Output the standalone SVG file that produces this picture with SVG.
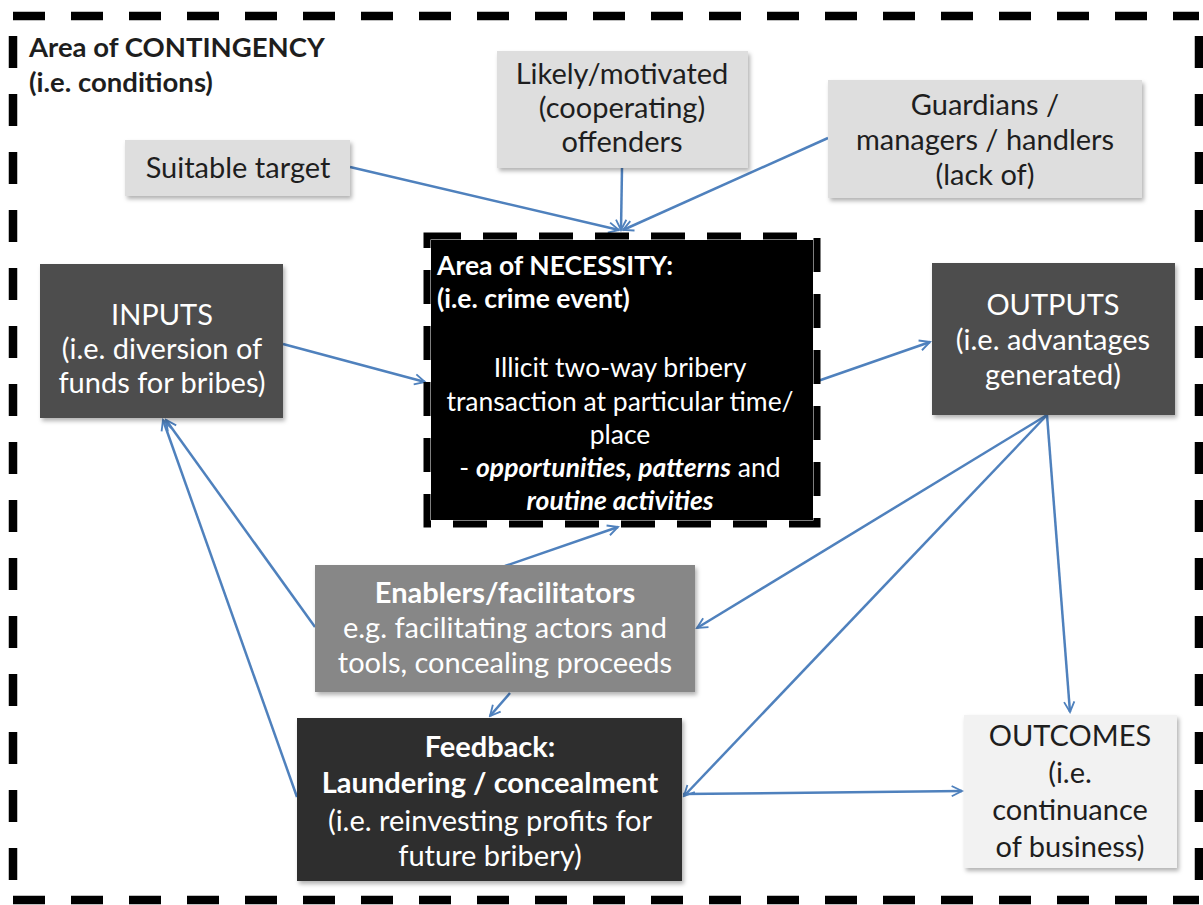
<svg xmlns="http://www.w3.org/2000/svg" width="1203" height="905" viewBox="0 0 1203 905">
<style>
text{font-family:Lato,"Open Sans","Liberation Sans",sans-serif;font-size:29px;}
.c{text-anchor:middle;}
.w{fill:#ffffff;}
.d{fill:#1e1e1e;}
.b{font-weight:bold;}
.bi{font-weight:bold;font-style:italic;}
.n{font-size:26.5px;}
.t{font-size:27.5px;}
.light{fill:#dedede;}
.conn{fill:none;stroke:#4f81bd;stroke-width:2.5;marker-end:url(#arr);}
.border{fill:none;stroke:#000;stroke-width:8.5;stroke-dasharray:32 26;}
</style>
<defs>
<marker id="arr" viewBox="0 0 12 12" refX="10.5" refY="6" markerWidth="5.5" markerHeight="5.5" orient="auto" markerUnits="strokeWidth">
<path d="M1.5,1.5 L10.5,6 L1.5,10.5" fill="none" stroke="#4f81bd" stroke-width="1.6" stroke-linejoin="miter"/>
</marker>
<filter id="sh" x="-10%" y="-10%" width="125%" height="130%">
<feDropShadow dx="2" dy="3" stdDeviation="2" flood-color="#000" flood-opacity="0.3"/>
</filter>
</defs>
<rect width="1203" height="905" fill="#fff"/>
<g id="outer-border">
<path class="border" d="M13,16 H1199"/>
<path class="border" d="M1199,16 V901" stroke-dashoffset="-20"/>
<path class="border" d="M13,900 H1199"/>
<path class="border" d="M13,36 V901"/>
<text x="29" y="57" class="b d t">Area of CONTINGENCY</text>
<text x="29" y="92" class="b d t">(i.e. conditions)</text>
</g>
<g id="connectors">
<path class="conn" d="M350,167 L619,230"/>
<path class="conn" d="M622,168 L621,230"/>
<path class="conn" d="M828,138 L623,230"/>
<path class="conn" d="M283,344 L425,382"/>
<path class="conn" d="M815,382 L930,342"/>
<path class="conn" d="M505,566 L618,527"/>
<path class="conn" d="M510,693 L490,716"/>
<path class="conn" d="M1047,415 L1070,712"/>
<path class="conn" d="M1047,415 L697,628"/>
<path class="conn" d="M1047,415 L684,796"/>
<path class="conn" d="M315,627 L166,420"/>
<path class="conn" d="M297,797 L163,420"/>
<path class="conn" d="M683,794 L962,791"/>
</g>
<g id="suitable-target">
<rect x="125" y="140" width="225" height="56" class="light" filter="url(#sh)"/>
<text x="238" y="178" class="c d">Suitable target</text>
</g>
<g id="likely-offenders">
<rect x="497" y="51" width="251" height="117" class="light" filter="url(#sh)"/>
<text x="622" y="84" class="c d">Likely/motivated</text>
<text x="622" y="118" class="c d">(cooperating)</text>
<text x="622" y="152" class="c d">offenders</text>
</g>
<g id="guardians">
<rect x="828" y="80" width="314" height="118" class="light" filter="url(#sh)"/>
<text x="985" y="115" class="c d">Guardians /</text>
<text x="985" y="150" class="c d">managers / handlers</text>
<text x="985" y="185" class="c d">(lack of)</text>
</g>
<g id="necessity">
<rect x="431" y="240" width="382" height="280" fill="#000"/>
<rect x="427" y="236" width="390" height="288" fill="none" stroke="#000" stroke-width="7" stroke-dasharray="34 22"/>
<text x="437" y="275" class="b w n">Area of NECESSITY:</text>
<text x="437" y="308" class="b w n">(i.e. crime event)</text>
<text x="620" y="377" class="c w n">Illicit two-way bribery</text>
<text x="620" y="411" class="c w n">transaction at particular time/</text>
<text x="620" y="444" class="c w n">place</text>
<text x="620" y="477" class="c w n">- <tspan class="bi">opportunities, patterns</tspan> and</text>
<text x="620" y="510" class="c w n bi">routine activities</text>
</g>
<g id="inputs">
<rect x="40" y="264" width="243" height="154" fill="#4d4d4d" filter="url(#sh)"/>
<text x="162" y="325" class="c w">INPUTS</text>
<text x="162" y="359" class="c w">(i.e. diversion of</text>
<text x="162" y="393" class="c w">funds for bribes)</text>
</g>
<g id="outputs">
<rect x="932" y="263" width="243" height="152" fill="#4d4d4d" filter="url(#sh)"/>
<text x="1053" y="315" class="c w">OUTPUTS</text>
<text x="1053" y="350" class="c w">(i.e. advantages</text>
<text x="1053" y="385" class="c w">generated)</text>
</g>
<g id="enablers">
<rect x="315" y="565" width="380" height="127" fill="#878787" filter="url(#sh)"/>
<text x="505" y="603" class="c w b">Enablers/facilitators</text>
<text x="505" y="638" class="c w">e.g. facilitating actors and</text>
<text x="505" y="673" class="c w">tools, concealing proceeds</text>
</g>
<g id="feedback">
<rect x="297" y="718" width="385" height="163" fill="#2f2f2f" filter="url(#sh)"/>
<text x="490" y="757" class="c w b">Feedback:</text>
<text x="490" y="793" class="c w b">Laundering / concealment</text>
<text x="490" y="831" class="c w">(i.e. reinvesting profits for</text>
<text x="490" y="866" class="c w">future bribery)</text>
</g>
<g id="outcomes">
<rect x="964" y="715" width="213" height="153" fill="#f2f2f2" filter="url(#sh)"/>
<text x="1070" y="746" class="c d">OUTCOMES</text>
<text x="1070" y="783" class="c d">(i.e.</text>
<text x="1070" y="820" class="c d">continuance</text>
<text x="1070" y="857" class="c d">of business)</text>
</g>
</svg>
